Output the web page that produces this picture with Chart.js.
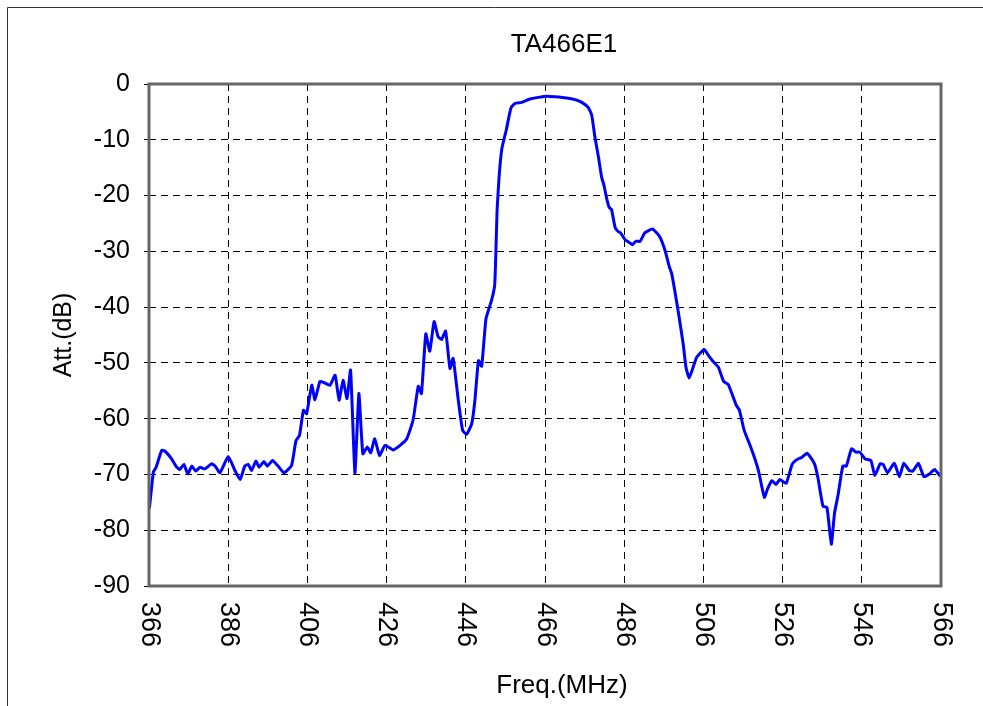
<!DOCTYPE html>
<html>
<head>
<meta charset="utf-8">
<script src="https://cdn.jsdelivr.net/npm/chart.js@4.4.1/dist/chart.umd.min.js"></script>
<style>
  html, body { margin: 0; padding: 0; background: #fff; }
  #c { display: block; }
</style>
</head>
<body>
<canvas id="c" width="983" height="706"></canvas>
<script>
const chartTitle = "TA466E1";
const xAxisTitle = "Freq.(MHz)";
const yAxisTitle = "Att.(dB)";
const xTickLabels = [366, 386, 406, 426, 446, 466, 486, 506, 526, 546, 566];
const yTickValues = [0, -10, -20, -30, -40, -50, -60, -70, -80, -90];

const freqs = [
  366.1, 367.1, 367.8, 369.2, 370.0, 371.7, 373.0, 373.8, 374.8, 375.8,
  376.8, 377.8, 378.9, 380.1, 381.8, 382.7, 383.9, 386.0, 387.7, 389.0,
  390.2, 391.1, 391.9, 393.0, 393.8, 395.0, 395.9, 397.2, 398.6, 400.1,
  402.0, 403.1, 404.0, 405.0, 405.8, 407.1, 407.9, 409.2, 410.4, 411.7,
  413.0, 414.0, 415.0, 416.0, 416.9, 418.0, 419.0, 420.0, 421.1, 422.0,
  423.0, 424.2, 425.6, 427.7, 429.4, 431.1, 432.7, 434.0, 434.8, 435.9,
  436.9, 438.0, 439.0, 439.9, 440.9, 442.0, 442.8, 444.1, 445.2, 446.2,
  447.5, 448.3, 449.2, 450.0, 451.1, 452.5, 453.3, 453.6, 453.9, 454.4,
  455.1, 456.2, 457.4, 458.4, 460.1, 462.2, 464.3, 466.4, 468.5, 471.4,
  473.6, 475.3, 476.9, 477.8, 478.6, 479.5, 480.3, 480.9, 481.6, 482.2,
  482.8, 483.7, 484.4, 485.1, 486.2, 487.0, 488.1, 488.9, 490.0, 491.2,
  493.1, 494.9, 496.3, 497.4, 498.0, 499.6, 500.9, 501.6, 502.4, 503.4,
  504.3, 506.2, 507.3, 508.4, 509.8, 511.1, 512.3, 514.3, 515.1, 516.3,
  517.8, 518.8, 519.9, 521.4, 522.2, 523.3, 524.3, 525.3, 526.9, 528.4,
  529.7, 530.9, 532.2, 534.0, 534.9, 536.2, 537.2, 538.3, 539.1, 540.0,
  541.2, 542.1, 543.4, 544.5, 545.5, 546.8, 548.3, 549.3, 550.6, 551.4,
  552.5, 554.2, 555.5, 556.6, 558.0, 558.9, 560.3, 561.7, 563.1, 564.4,
  565.7, 566.0
];
const attenuation = [
  -76.1, -69.6, -68.7, -65.7, -65.8, -67.2, -68.7, -69.1, -68.2, -69.9,
  -68.5, -69.4, -68.7, -69.0, -68.1, -68.5, -69.7, -66.8, -69.3, -70.9,
  -68.5, -68.2, -69.3, -67.6, -68.7, -67.7, -68.5, -67.5, -68.5, -69.7,
  -68.4, -64.0, -63.0, -58.5, -59.1, -54.0, -56.6, -53.3, -53.6, -54.0,
  -52.2, -56.7, -53.1, -56.4, -51.3, -69.7, -55.5, -66.3, -65.1, -66.1,
  -63.6, -66.6, -64.8, -65.6, -64.8, -63.6, -60.2, -54.2, -55.5, -44.8,
  -47.9, -42.6, -45.3, -45.8, -44.3, -51.0, -49.2, -56.7, -62.1, -62.8,
  -60.9, -56.7, -49.6, -50.6, -42.1, -38.8, -36.0, -30.0, -22.7, -16.7,
  -11.6, -8.3, -4.3, -3.5, -3.3, -2.7, -2.4, -2.2, -2.3, -2.5,
  -2.8, -3.3, -4.2, -5.6, -9.5, -13.1, -16.7, -18.2, -20.6, -22.1,
  -22.5, -25.7, -26.4, -26.7, -27.9, -28.3, -28.8, -28.2, -28.2, -26.7,
  -26.0, -27.3, -29.8, -32.8, -34.0, -40.6, -46.6, -50.8, -52.7, -50.8,
  -49.0, -47.6, -48.7, -49.7, -50.8, -53.3, -53.9, -57.6, -58.5, -62.1,
  -64.8, -66.8, -69.3, -74.1, -72.6, -71.1, -71.8, -70.9, -71.6, -68.2,
  -67.3, -66.9, -66.2, -68.0, -70.5, -75.7, -75.9, -82.5, -77.0, -73.7,
  -68.5, -68.5, -65.4, -66.0, -66.0, -67.2, -67.5, -70.2, -68.1, -68.2,
  -69.7, -68.0, -70.4, -68.0, -69.3, -69.4, -68.0, -70.4, -69.9, -69.1,
  -70.2, -69.7
];

const FONT = "'Liberation Sans', Arial, sans-serif";

const points = freqs.map((f, i) => ({ x: f, y: attenuation[i] }));

const decorPlugin = {
  id: 'decor',
  afterDraw(chart) {
    const ctx = chart.ctx;
    const area = chart.chartArea;
    const xs = chart.scales.x;
    ctx.save();
    // plot frame
    ctx.strokeStyle = '#666';
    ctx.lineWidth = 3;
    ctx.strokeRect(area.left, area.top, area.right - area.left, area.bottom - area.top);
    // outer chart frame
    ctx.strokeStyle = '#333';
    ctx.lineWidth = 1;
    ctx.beginPath();
    ctx.moveTo(7.5, 706);
    ctx.lineTo(7.5, 7.5);
    ctx.lineTo(983, 7.5);
    ctx.stroke();
    // rotated x tick labels (clockwise)
    ctx.fillStyle = '#000';
    ctx.font = '27px ' + FONT;
    ctx.textAlign = 'left';
    ctx.textBaseline = 'middle';
    xTickLabels.forEach(v => {
      const px = xs.getPixelForValue(v);
      ctx.save();
      ctx.translate(px, area.bottom + 16);
      ctx.rotate(Math.PI / 2);
      ctx.fillText(String(v), 0, 0);
      ctx.restore();
    });
    // chart title
    ctx.textAlign = 'center';
    ctx.textBaseline = 'middle';
    ctx.font = '26px ' + FONT;
    ctx.fillText(chartTitle, 564, 45);
    // x axis title
    ctx.fillText(xAxisTitle, 562, 686);
    ctx.restore();
  }
};

new Chart(document.getElementById('c'), {
  type: 'line',
  data: {
    datasets: [{
      data: points,
      borderColor: '#0000ff',
      borderWidth: 3,
      pointRadius: 0,
      fill: false,
      tension: 0.15
    }]
  },
  options: {
    responsive: false,
    animation: false,
    layout: { padding: { left: 0, top: 84, right: 42, bottom: 0 } },
    plugins: { legend: { display: false }, title: { display: false }, tooltip: { enabled: false } },
    scales: {
      x: {
        type: 'linear',
        min: 366, max: 566,
        ticks: { display: false, stepSize: 20 },
        grid: { color: '#000', lineWidth: 1, drawTicks: false },
        border: { display: false, dash: [7, 5] },
        afterFit: s => { s.height = 120; }
      },
      y: {
        min: -90, max: 0,
        afterBuildTicks: s => { s.ticks = yTickValues.map(v => ({ value: v })); },
        ticks: { color: '#000', font: { family: FONT, size: 25 }, padding: 14 },
        grid: { color: '#000', lineWidth: 1, drawTicks: true, tickLength: 5, tickColor: '#000', tickBorderDash: [] },
        border: { display: false, dash: [7, 5] },
        title: { display: true, text: yAxisTitle, color: '#000', font: { family: FONT, size: 25 }, padding: { top: 49, bottom: 0 } },
        afterFit: s => { s.width = 149; }
      }
    }
  },
  plugins: [decorPlugin]
});
</script>
</body>
</html>
